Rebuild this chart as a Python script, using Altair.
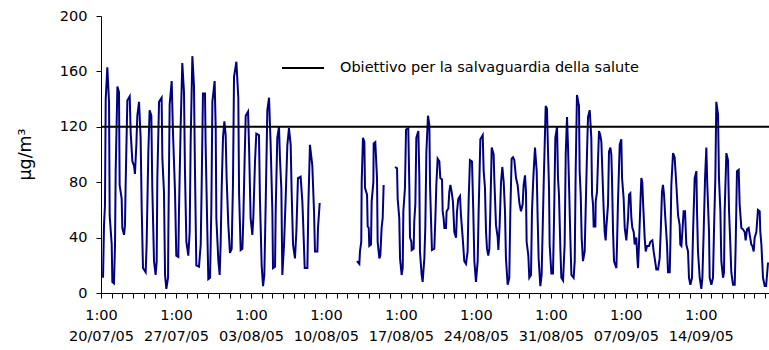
import json

import altair as alt
import pandas as pd

# Ozone, hourly readings (µg/m³) from 20/07/05 01:00.
# Each run of readings is kept as day offsets from the start and concentrations;
# the station was off-line between the runs.
START = pd.Timestamp("2005-07-20 01:00")
SPAN_DAYS = 62.37

RUN1_DAY = [0.19, 0.28, 0.37, 0.44, 0.59, 0.75, 0.81, 1.00, 1.06, 1.21, 1.31, 1.37, 1.53, 1.68, 1.74, 1.93,
            1.99, 2.15, 2.24, 2.30, 2.46, 2.68, 2.77, 2.93, 3.08, 3.17, 3.30, 3.39, 3.55, 3.70, 3.80, 3.92,
            4.17, 4.26, 4.42, 4.54, 4.70, 4.79, 4.95, 5.10, 5.20, 5.26, 5.42, 5.66, 5.73, 5.88, 5.98, 6.10,
            6.26, 6.29, 6.41, 6.60, 6.72, 6.91, 7.03, 7.22, 7.28, 7.44, 7.59, 7.75, 7.84, 7.97, 8.15, 8.28,
            8.37, 8.53, 8.68, 8.78, 8.90, 9.15, 9.31, 9.40, 9.52, 9.71, 9.77, 9.93, 10.02, 10.18, 10.30,
            10.40, 10.61, 10.71, 10.77, 10.96, 11.08, 11.17, 11.27, 11.39, 11.52, 11.64, 11.73, 11.89,
            12.04, 12.20, 12.32, 12.42, 12.64, 12.82, 12.89, 13.04, 13.20, 13.29, 13.41, 13.51, 13.73,
            13.82, 13.97, 14.13, 14.22, 14.38, 14.50, 14.75, 14.84, 15.00, 15.13, 15.25, 15.38, 15.53,
            15.69, 15.84, 16.00, 16.06, 16.25, 16.31, 16.46, 16.62, 16.71, 16.84, 16.93, 17.09, 17.24,
            17.40, 17.55, 17.71, 17.80, 17.93, 18.11, 18.24, 18.39, 18.64, 18.80, 18.86, 19.02, 19.27,
            19.36, 19.51, 19.73, 19.89, 19.98, 20.20, 20.26, 20.42]
RUN1_O3 = [11, 49, 63, 140, 163, 138, 56, 35, 8, 7, 35, 88, 149, 145, 78, 68,
           47, 42, 49, 78, 139, 142, 116, 95, 92, 86, 107, 128, 138, 112, 61, 18,
           15, 35, 102, 132, 128, 76, 23, 13, 23, 83, 138, 141, 97, 73, 13, 3,
           11, 44, 136, 153, 116, 73, 27, 26, 59, 121, 166, 145, 88, 37, 27, 44,
           109, 171, 150, 85, 20, 19, 35, 78, 144, 144, 107, 44, 10, 11, 59,
           138, 153, 119, 54, 23, 13, 35, 76, 112, 124, 114, 83, 49,
           29, 32, 78, 156, 167, 141, 73, 31, 32, 54, 96, 128, 131,
           107, 54, 42, 54, 95, 115, 114, 68, 20, 5, 13, 66, 132,
           141, 107, 59, 18, 19, 59, 112, 120, 97, 75, 13, 35, 68,
           107, 119, 107, 73, 35, 25, 44, 83, 84, 66, 54, 18, 18,
           63, 107, 92, 59, 30, 30, 47, 65]

RUN2_DAY = [23.90, 24.12, 24.18, 24.30, 24.34, 24.46, 24.59, 24.65, 24.84, 24.90, 25.00, 25.05, 25.21,
            25.27, 25.43, 25.46, 25.61, 25.77, 25.83, 25.99, 26.08, 26.20, 26.30, 26.39]
RUN2_O3 = [23, 21, 30, 37, 80, 112, 109, 76, 71, 48, 47, 34, 35,
           66, 80, 108, 109, 83, 37, 25, 27, 47, 54, 78]

RUN3_DAY = [27.45, 27.64, 27.70, 27.85, 27.92, 28.07, 28.17, 28.23, 28.38, 28.48, 28.69, 28.79, 28.85,
            28.98, 29.01, 29.19, 29.25, 29.35, 29.44, 29.63, 29.72, 29.78, 29.94, 30.03, 30.19, 30.28,
            30.38, 30.53, 30.66, 30.72, 30.81, 30.90, 31.12, 31.22, 31.31, 31.43, 31.59, 31.68, 31.84,
            31.90, 31.99, 32.06, 32.21, 32.27, 32.43, 32.52, 32.62, 32.74, 32.86, 32.99, 33.15, 33.24,
            33.36, 33.52, 33.61, 33.77, 33.92, 34.08, 34.23, 34.33, 34.45, 34.64, 34.76, 34.86, 35.01,
            35.17, 35.26, 35.42, 35.64, 35.73, 35.85, 35.95, 36.04, 36.16, 36.26, 36.35, 36.48, 36.66,
            36.72, 36.88, 37.04, 37.10, 37.22, 37.35, 37.47, 37.60, 37.72, 37.81, 37.97, 38.12, 38.22,
            38.34, 38.47, 38.59, 38.75, 38.90, 39.06, 39.21, 39.37, 39.46, 39.59, 39.68, 39.74, 39.90,
            39.99, 40.15, 40.24, 40.37, 40.52, 40.68, 40.77, 40.86, 41.02, 41.14, 41.24, 41.33,
            41.52, 41.64, 41.74, 41.83, 41.89, 42.05, 42.20, 42.30, 42.42, 42.58, 42.67, 42.76, 42.89,
            42.98, 43.14, 43.29, 43.39, 43.51, 43.60, 43.70, 43.82, 43.92, 44.13, 44.23, 44.32, 44.44,
            44.63, 44.69, 44.79, 44.88, 45.00, 45.16, 45.25, 45.38, 45.47, 45.63, 45.78, 45.85, 45.94,
            46.00, 46.16, 46.19, 46.31, 46.41, 46.50, 46.62, 46.72, 46.81, 46.93, 47.03, 47.12, 47.18,
            47.34, 47.43, 47.56, 47.65, 47.71, 47.81, 47.90, 48.12, 48.18, 48.27, 48.43, 48.58, 48.65,
            48.80, 48.90, 49.05, 49.21, 49.30, 49.42, 49.52, 49.61, 49.74, 49.83, 49.98, 50.08, 50.14,
            50.23, 50.36, 50.45, 50.54, 50.61, 50.76, 50.86, 50.98, 51.17, 51.29, 51.48, 51.60, 51.70,
            51.85, 52.01, 52.16, 52.26, 52.38, 52.47, 52.57, 52.69, 52.85, 52.94, 53.10, 53.16, 53.25,
            53.41, 53.56, 53.72, 53.88, 54.03, 54.09, 54.19, 54.28, 54.40, 54.53, 54.65, 54.81, 54.90,
            55.03, 55.18, 55.28, 55.43, 55.59, 55.65, 55.74, 55.90, 56.05, 56.15, 56.27, 56.40, 56.52,
            56.61, 56.77, 56.83, 56.99, 57.14, 57.24, 57.36, 57.45, 57.61, 57.70, 57.83, 57.92, 58.08,
            58.17, 58.23, 58.39, 58.54, 58.64, 58.76, 58.85, 59.01, 59.17, 59.26, 59.38, 59.54, 59.63,
            59.79, 59.94, 60.10, 60.19, 60.32, 60.47, 60.57, 60.72, 60.82, 60.94, 61.03, 61.19, 61.34,
            61.50, 61.56, 61.66, 61.81, 61.97, 62.10, 62.28]
RUN3_O3 = [91, 90, 68, 54, 25, 13, 18, 59, 76, 118, 119, 76, 40,
           37, 31, 32, 52, 64, 112, 117, 85, 30, 13, 8, 25, 47,
           102, 128, 121, 78, 54, 31, 32, 54, 78, 97, 95, 83, 82,
           59, 54, 47, 47, 59, 61, 73, 78, 73, 66, 44, 40, 59,
           68, 70, 56, 40, 23, 21, 30, 68, 96, 95, 59, 23, 8,
           23, 59, 111, 114, 88, 76, 44, 32, 27, 32, 59, 105, 100,
           83, 49, 40, 31, 49, 80, 91, 80, 59, 25, 6, 11, 59,
           97, 98, 96, 83, 78, 65, 59, 64, 78, 85, 73, 37, 27,
           11, 13, 59, 84, 105, 88, 54, 25, 5, 13, 47, 78,
           135, 133, 102, 76, 35, 14, 14, 54, 112, 120, 83, 71, 32,
           11, 9, 35, 100, 127, 107, 78, 40, 13, 11, 23, 88, 143,
           135, 88, 71, 40, 23, 30, 59, 102, 127, 132, 112, 71, 64,
           48, 48, 66, 73, 97, 117, 114, 109, 88, 61, 44, 38, 47,
           64, 102, 105, 100, 83, 44, 23, 18, 35, 66, 107, 111, 83,
           68, 47, 38, 54, 71, 72, 54, 47, 44, 35, 40, 25, 18,
           35, 64, 83, 80, 66, 40, 30, 34, 34, 37, 38, 30, 25,
           17, 17, 25, 44, 73, 78, 71, 54, 35, 15, 15, 35, 78,
           101, 98, 78, 56, 49, 35, 34, 44, 59, 59, 35, 30, 11,
           6, 11, 44, 83, 88, 59, 30, 11, 3, 11, 44, 83, 105,
           78, 44, 11, 6, 11, 47, 83, 138, 129, 83, 59, 23, 11,
           15, 59, 101, 96, 59, 35, 15, 6, 6, 35, 88, 89, 64,
           47, 46, 44, 38, 46, 47, 42, 35, 34, 30, 40, 44, 60,
           59, 44, 35, 11, 5, 5, 22]

THRESHOLD = 120
THRESHOLD_LABEL = "Obiettivo per la salvaguardia della salute"

TICK_DAYS = list(range(0, 63))
LABEL_EVERY = 7
LABEL_DAYS = list(range(0, 63, LABEL_EVERY))
Y_TICKS = [0, 40, 80, 120, 160, 200]

FONT = "DejaVu Sans"

rows = []
for run, (days, vals) in enumerate([(RUN1_DAY, RUN1_O3), (RUN2_DAY, RUN2_O3), (RUN3_DAY, RUN3_O3)]):
    for d, v in zip(days, vals):
        rows.append({"day": d, "o3": v, "run": run})
series = pd.DataFrame(rows)
limit = pd.DataFrame({"value": [THRESHOLD], "label": [THRESHOLD_LABEL]})

time_label = f"{START.hour}:{START.minute:02d}"
date_labels = [(START + pd.Timedelta(days=d)).strftime("%d/%m/%y") for d in LABEL_DAYS]
label_expr = (
    f"datum.value % {LABEL_EVERY} == 0 ? "
    f"['{time_label}', {json.dumps(date_labels)}[datum.value / {LABEL_EVERY}]] : ''"
)

x_axis = alt.Axis(
    values=TICK_DAYS, labelExpr=label_expr, title=None, grid=False,
    tickSize=5, labelPadding=10, labelFontSize=14.5, labelLineHeight=21,
    labelOverlap=False, labelFlush=False, labelBound=False,
)
y_axis = alt.Axis(
    values=Y_TICKS, title="µg/m³", grid=False, tickSize=5, labelPadding=9,
    labelFontSize=14.5, titleFontSize=17.5, titleFontWeight="normal",
    titleAngle=270, titleAlign="center", titleBaseline="middle",
    titleX=-76, titleY=138,
)

line = alt.Chart(series).mark_line(color="#000080", strokeWidth=2, clip=True).encode(
    x=alt.X("day:Q", scale=alt.Scale(domain=[0, SPAN_DAYS], nice=False, zero=False), axis=x_axis),
    y=alt.Y("o3:Q", scale=alt.Scale(domain=[0, 200], nice=False), axis=y_axis),
    detail="run:N",
)

rule = alt.Chart(limit).mark_rule(strokeWidth=2).encode(
    y="value:Q",
    stroke=alt.Stroke(
        "label:N",
        scale=alt.Scale(range=["black"]),
        legend=alt.Legend(
            title=None, orient="none", legendX=180, legendY=30, padding=0,
            symbolType="stroke", symbolSize=1764, symbolStrokeWidth=2,
            labelOffset=15, labelFontSize=14.5, labelFont=FONT, labelLimit=0,
            labelColor="black",
        ),
    ),
)

chart = (
    alt.layer(line, rule)
    .properties(
        width=668, height=277,
        padding={"left": 101, "top": 16, "right": 0, "bottom": 57},
        autosize=alt.AutoSizeParams(type="none"),
        background="white",
    )
    .configure_view(stroke=None)
    .configure_axis(
        domainColor="black", tickColor="black", labelColor="black", titleColor="black",
        labelFont=FONT, titleFont=FONT, domainWidth=1, tickWidth=1,
    )
)

chart.save("out.html", embed_options={"renderer": "svg", "actions": False})
